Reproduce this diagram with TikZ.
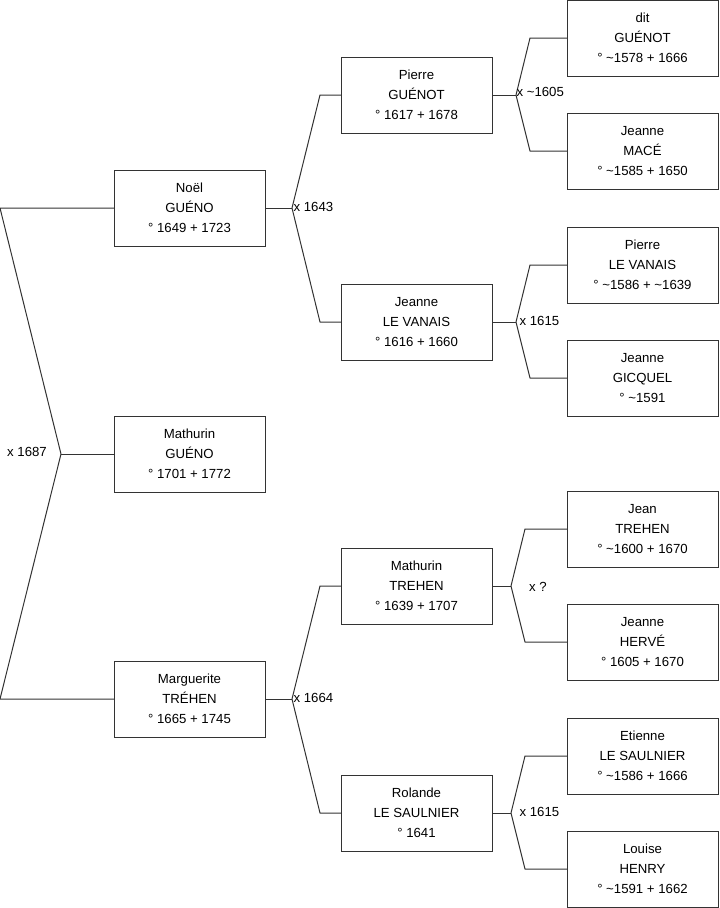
\documentclass[tikz,border=0pt]{standalone}
\usepackage{fontspec}
\setmainfont{Liberation Sans}
\usetikzlibrary{positioning}
\definecolor{boxline}{RGB}{51,51,51}
\tikzset{
  person/.style={draw=boxline, line width=0.75pt, minimum width=113.25pt,
    minimum height=57pt, align=center, inner sep=0pt, outer sep=0pt,
    font=\fontsize{9.9}{15}\selectfont},
  link/.style={draw=boxline, line width=0.75pt, line join=round},
  union/.style={font=\fontsize{9.9}{15}\selectfont, inner sep=1pt},
}

\begin{document}
\begin{tikzpicture}[x=0.75pt, y=-0.75pt]
  \useasboundingbox (0,0) rectangle (719,908);
  % generation 1
  \node[person] (noel) at (189.5,208) {Noël\\ GUÉNO\\ ° 1649 + 1723};
  \node[person] (mathurin) at (189.5,454) {Mathurin\\ GUÉNO\\ ° 1701 + 1772};
  \node[person] (marguerite) at (189.5,699) {Marguerite\\ TRÉHEN\\ ° 1665 + 1745};
  % generation 2
  \node[person] (pierre) at (416.5,95) {Pierre\\ GUÉNOT\\ ° 1617 + 1678};
  \node[person] (jeannelv) at (416.5,322) {Jeanne\\ LE VANAIS\\ ° 1616 + 1660};
  \node[person] (mathurint) at (416.5,586) {Mathurin\\ TREHEN\\ ° 1639 + 1707};
  \node[person] (rolande) at (416.5,813) {Rolande\\ LE SAULNIER\\ ° 1641};
  % generation 3
  \node[person] (dit) at (642.5,38) {dit\\ GUÉNOT\\ ° \textasciitilde1578 + 1666};
  \node[person] (jeannem) at (642.5,151) {Jeanne\\ MACÉ\\ ° \textasciitilde1585 + 1650};
  \node[person] (pierrelv) at (642.5,265) {Pierre\\ LE VANAIS\\ ° \textasciitilde1586 + \textasciitilde1639};
  \node[person] (jeanneg) at (642.5,378) {Jeanne\\ GICQUEL\\ ° \textasciitilde1591};
  \node[person] (jean) at (642.5,529) {Jean\\ TREHEN\\ ° \textasciitilde1600 + 1670};
  \node[person] (jeanneh) at (642.5,642) {Jeanne\\ HERVÉ\\ ° 1605 + 1670};
  \node[person] (etienne) at (642.5,756) {Etienne\\ LE SAULNIER\\ ° \textasciitilde1586 + 1666};
  \node[person] (louise) at (642.5,869) {Louise\\ HENRY\\ ° \textasciitilde1591 + 1662};

  % branch points
  \coordinate (j1) at (61,454);
  \coordinate (j1a) at (0,208);
  \coordinate (j1b) at (0,699);
  \coordinate (j2) at (292,208);
  \coordinate (j2a) at (320,95);
  \coordinate (j2b) at (320,322);
  \coordinate (j3) at (292,699);
  \coordinate (j3a) at (320,586);
  \coordinate (j3b) at (320,813);
  \coordinate (j4) at (516,95);
  \coordinate (j4a) at (530,38);
  \coordinate (j4b) at (530,151);
  \coordinate (j5) at (516,322);
  \coordinate (j5a) at (530,265);
  \coordinate (j5b) at (530,378);
  \coordinate (j6) at (511,586);
  \coordinate (j6a) at (525,529);
  \coordinate (j6b) at (525,642);
  \coordinate (j7) at (511,813);
  \coordinate (j7a) at (525,756);
  \coordinate (j7b) at (525,869);

  \draw[link] (noel.west) -- (j1a) -- (j1) -- (j1b) -- (marguerite.west);
  \draw[link] (j1) -- (mathurin.west);
  \draw[link] (noel.east) -- (j2);
  \draw[link] (pierre.west) -- (j2a) -- (j2) -- (j2b) -- (jeannelv.west);
  \draw[link] (marguerite.east) -- (j3);
  \draw[link] (mathurint.west) -- (j3a) -- (j3) -- (j3b) -- (rolande.west);
  \draw[link] (pierre.east) -- (j4);
  \draw[link] (dit.west) -- (j4a) -- (j4) -- (j4b) -- (jeannem.west);
  \draw[link] (jeannelv.east) -- (j5);
  \draw[link] (pierrelv.west) -- (j5a) -- (j5) -- (j5b) -- (jeanneg.west);
  \draw[link] (mathurint.east) -- (j6);
  \draw[link] (jean.west) -- (j6a) -- (j6) -- (j6b) -- (jeanneh.west);
  \draw[link] (rolande.east) -- (j7);
  \draw[link] (etienne.west) -- (j7a) -- (j7) -- (j7b) -- (louise.west);

  % marriages
  \node[union] (m1) at (27,452) {x 1687};
  \node[union, anchor=west] (m2) at (292,207) {x 1643};
  \node[union, anchor=west] (m3) at (292,698) {x 1664};
  \node[union, anchor=west] (m4) at (515,92) {x \textasciitilde1605};
  \node[union, anchor=west] (m5) at (518,321) {x 1615};
  \node[union] (m6) at (538,587) {x ?};
  \node[union, anchor=west] (m7) at (518,812) {x 1615};
\end{tikzpicture}
\end{document}
